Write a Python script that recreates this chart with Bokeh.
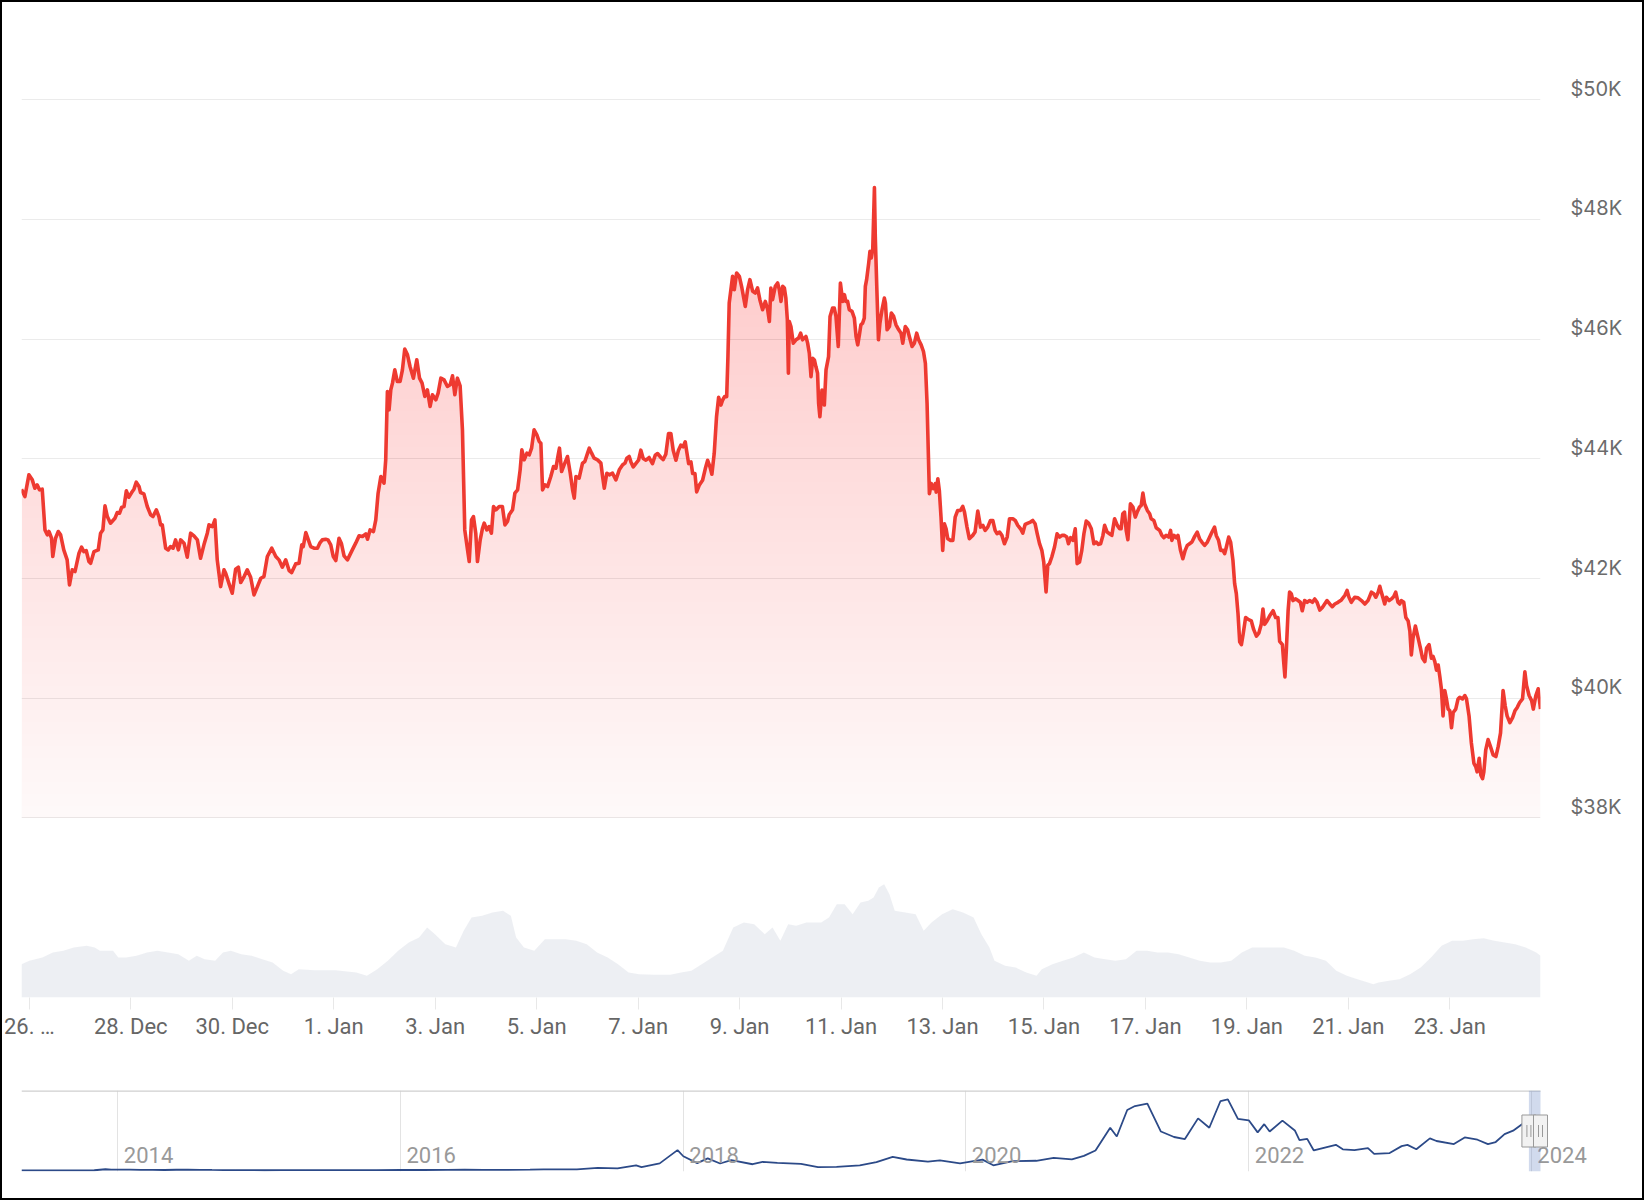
import numpy as np
import pandas as pd
from bokeh.plotting import figure
from bokeh.layouts import column
from bokeh.models import Range1d, FixedTicker, LinearAxis
from bokeh.embed import file_html
from bokeh.resources import INLINE
from bokeh.core.properties import value

# ---------------- data ----------------
START = "2023-12-26 00:00"   # hours below are counted from this instant

price_hours = [
    -3.7, -2.1, -0.2, 1.4, 2.6, 3.7, 4.8, 6.1, 7.4, 8.5,
    9.3, 10.5, 11.1, 12.4, 13.7, 14.8, 16.3, 17.9, 19.0, 20.3,
    21.6, 23.5, 24.7, 25.8, 26.9, 28.2, 29.0, 30.6, 32.6, 33.7,
    34.8, 35.8, 36.9, 38.4, 40.5, 41.6, 42.7, 43.7, 44.8, 45.9,
    47.1, 48.4, 49.5, 50.6, 51.9, 52.6, 54.2, 55.8, 57.4, 58.5,
    60.1, 61.3, 62.1, 62.9, 64.5, 65.7, 66.8, 68.0, 69.2, 70.5,
    71.6, 73.2, 74.7, 76.3, 77.9, 79.5, 81.0, 82.6, 84.2, 85.0,
    86.6, 87.8, 88.9, 90.5, 92.1, 92.9, 94.5, 96.0, 97.6, 98.9,
    100.0, 101.6, 103.1, 104.7, 106.3, 107.9, 109.5, 111.0, 112.6, 114.7,
    116.6, 118.1, 119.7, 121.3, 122.9, 124.1, 126.0, 127.6, 128.9, 129.6,
    130.8, 132.0, 133.1, 134.7, 136.3, 137.4, 138.6, 140.2,
    141.3, 142.6, 143.8, 145.0, 146.5, 147.6, 148.9, 150.5, 152.8, 154.4,
    156.0, 157.6, 159.2, 160.0, 161.2, 162.8, 163.9, 165.0, 166.3, 167.8,
    168.6, 169.4, 170.2, 171.0, 171.8, 172.9, 174.1, 175.4, 176.5, 177.6,
    178.9, 180.1, 181.7, 183.3, 184.6, 185.8, 187.1, 188.3, 189.6, 190.7,
    192.3, 193.4, 194.7, 196.2, 197.8, 199.1, 200.2, 201.3, 202.5, 203.8,
    204.9, 206.0, 207.3, 208.1, 209.2, 210.1, 211.2, 212.0, 213.3, 214.4,
    215.2, 216.4, 217.5, 218.6, 219.6, 220.7, 222.3, 223.8, 225.0, 226.2,
    227.0, 228.6, 229.7, 231.0, 232.2, 233.0, 234.1, 235.4, 236.5, 237.6,
    238.8, 240.1, 241.2, 242.0, 242.8, 243.9, 245.2, 246.7, 248.0, 249.1,
    250.2, 250.8, 251.8, 253.0, 254.6, 255.9, 257.0, 257.8, 258.6, 260.1,
    261.7, 262.8, 264.1, 264.9, 266.0, 267.2, 268.8, 270.4, 271.2, 272.0,
    273.2, 274.4, 275.9, 277.5, 279.1, 280.7, 281.8, 282.7, 283.8,
    284.6, 285.7, 286.9, 288.2, 289.3, 290.4, 291.7, 293.2, 294.8, 296.1,
    297.2, 298.8, 299.9, 301.1, 302.4, 303.5, 304.6, 305.9, 307.1, 308.2,
    309.3, 310.3, 310.9, 311.9, 313.0, 313.8, 314.9, 315.7, 316.9, 318.5,
    319.8, 320.9, 322.0, 322.9, 324.0, 325.1, 326.1, 327.2, 328.0, 328.9,
    329.9, 330.5, 331.1, 331.8, 332.7, 333.5, 334.6, 335.9, 337.1, 338.7,
    339.8, 340.9, 342.2, 343.4, 344.5, 345.6, 346.9, 348.2, 349.3, 350.1,
    350.8, 351.6, 352.9, 354.0, 354.8, 355.6, 356.4, 357.2, 357.9, 358.6,
    359.1, 359.5, 360.3, 361.4, 362.7, 363.9, 364.9, 365.8, 367.4, 368.2,
    369.0, 369.8, 370.6, 371.4, 372.1, 372.9, 373.4, 374.0, 375.0, 376.1,
    376.9, 378.1, 378.8, 380.0, 380.8, 381.6, 382.7, 383.7, 384.8, 385.6,
    386.3, 387.1, 387.9, 389.2, 390.3, 391.1, 391.9, 392.7, 393.4, 394.2,
    395.0, 395.5, 396.1, 397.1, 397.7, 398.3, 399.0, 399.8, 400.2, 400.9,
    401.7, 402.4, 403.4, 404.5, 405.0, 405.8, 406.9, 407.8, 408.9, 410.0,
    411.3, 412.4, 413.2, 414.4, 415.5, 416.3, 417.6, 418.7, 419.8, 420.7,
    421.9, 423.0, 423.9, 424.7, 425.3, 425.8, 426.7, 427.7, 428.6,
    429.0, 429.8, 430.5, 431.3, 432.1, 432.9, 433.7, 434.5, 435.8, 436.9,
    438.0, 439.2, 440.5, 441.6, 442.4, 443.6, 444.7, 446.3, 447.4, 448.7,
    450.0, 451.1, 452.2, 453.4, 454.7, 455.8, 456.9, 457.8, 459.0, 460.1,
    461.3, 462.6, 463.7, 465.3, 466.4, 467.6, 468.9, 470.0, 471.1, 472.4,
    473.6, 474.7, 475.8, 476.8, 477.9, 479.0, 479.9, 481.0, 481.8, 482.6,
    483.7, 485.0, 486.2, 487.4, 488.5, 489.7, 490.8, 491.6, 492.6, 493.7,
    494.8, 495.7, 496.8, 497.9, 498.9, 500.0, 501.1, 502.4, 503.6, 504.7,
    505.8, 506.8, 507.9, 508.7, 509.9, 511.0, 512.1, 513.4, 514.7, 515.8,
    516.5, 517.3, 518.1, 518.9, 519.7, 520.9, 522.1, 523.2, 524.1, 525.2,
    526.0, 526.8, 527.6, 528.9, 530.0, 530.7, 532.0, 533.1, 534.7, 535.8,
    536.7, 537.8, 539.0, 539.9, 540.5, 541.5, 542.6, 543.4, 544.6, 545.7,
    546.8, 547.8, 548.9, 550.0, 551.3, 552.5, 553.6, 554.7, 556.0, 557.3,
    558.4, 559.5, 560.7, 561.5, 562.6, 563.6, 564.7, 565.5, 566.3, 567.4,
    568.3, 569.4, 570.2, 571.0, 571.8, 572.6,
    573.4, 574.2, 575.4, 576.5, 578.1, 579.2, 580.5, 581.7, 582.8, 583.6,
    584.4, 585.5, 586.8, 588.4, 589.6, 590.7, 591.5, 592.8, 593.4, 594.0,
    594.7, 595.5, 596.2, 597.0, 597.8, 599.1, 600.2, 601.3, 602.2, 603.3,
    604.5, 605.7, 607.0, 608.1, 609.2, 610.5, 611.7, 612.8, 613.9, 615.2,
    616.4, 617.6, 619.1, 620.7, 622.3, 623.4, 624.3, 625.4, 627.0, 628.6,
    630.2, 631.8, 633.3, 634.9, 636.0, 637.0, 638.1, 638.9, 639.6, 640.4,
    641.2, 642.0, 643.3, 644.4, 645.5, 646.4, 647.5, 648.3, 649.1, 650.2,
    651.2, 652.3, 653.1, 653.8, 654.6, 655.7, 657.0, 658.1, 659.1, 660.2,
    661.0, 662.2, 663.3, 664.1, 664.9, 665.7, 666.5, 667.3, 668.0, 668.8,
    669.6, 670.4, 671.2, 672.0, 672.8, 673.6, 674.8, 675.9, 676.7, 678.0,
    679.1, 679.9, 681.1, 682.2, 683.4, 684.3, 684.9, 685.9, 686.7, 687.5,
    688.1, 689.0, 690.1, 691.2, 692.5, 693.8, 694.9, 696.0, 697.2, 698.2,
    699.1, 700.4, 701.7, 702.8, 703.9, 705.1, 706.4, 707.5, 708.3, 709.5,
    710.7, 711.5, 712.7, 713.8, 714.9,
]

price_usd = [
    43493, 43370, 43733, 43649, 43510, 43565, 43482, 43493, 42813, 42730,
    42786, 42674, 42368, 42674, 42786, 42730, 42479, 42312, 41894, 42145,
    42117, 42423, 42524, 42451, 42468, 42284, 42256, 42451, 42479, 42758,
    42813, 43214, 43036, 42925, 43008, 43103, 43092, 43192, 43203, 43465,
    43359, 43437, 43493, 43610, 43538, 43437, 43415, 43203, 43064, 43036,
    43148, 43036, 42897, 42897, 42507, 42479, 42535, 42507, 42646, 42479,
    42646, 42591, 42357, 42758, 42713, 42646, 42340, 42563, 42758, 42897,
    42869, 42980, 42312, 41866, 42145, 42089, 41911, 41755, 42156, 42189,
    41933, 42033, 42145, 42022, 41727, 41866, 42005, 42033, 42368, 42507,
    42368, 42312, 42189, 42312, 42134, 42100, 42245, 42256, 42563, 42535,
    42769, 42646, 42535, 42507, 42507, 42591, 42646, 42657,
    42646, 42563, 42368, 42301, 42674, 42591, 42379, 42312, 42479, 42591,
    42713, 42702, 42747, 42657, 42813, 42786, 42980, 43426, 43705, 43593,
    43983, 45125, 44819, 45153, 45265, 45487, 45292, 45292, 45487, 45833,
    45738, 45543, 45348, 45655, 45348, 45265, 45042, 45153, 44875, 45070,
    44986, 45097, 45348, 45320, 45209, 45237, 45387, 45070, 45348, 45220,
    44485, 42813, 42479, 42284, 42980, 43036, 42758, 42284, 42646, 42841,
    42925, 42813, 42869, 42758, 43203, 43148, 43203, 43203, 42897, 42953,
    43064, 43148, 43426, 43482, 43816, 44150, 43983, 44095, 44067, 44178,
    44485, 44401, 44290, 44262, 43482, 43565, 43538, 43705, 43872, 43844,
    44067, 44178, 43788, 43900, 44039, 43760, 43482, 43343, 43705, 43677,
    43928, 43955, 44095, 44178, 44095, 44011, 43983, 43928, 43705, 43510,
    43760, 43733, 43760, 43649, 43816, 43900, 43928, 44011, 44039,
    43949, 43866, 43921, 43977, 44145, 44005, 43977, 44022, 43921, 44061,
    44089, 44022, 43989, 44078, 44424, 44424, 44145, 43977, 44145, 44229,
    44201, 44285, 44145, 43921, 43949, 43754, 43754, 43447, 43558, 43642,
    43838, 43977, 43866, 43743, 44089, 44704, 45028, 44899, 44983, 45039,
    45039, 45709, 46603, 46799, 47050, 46827, 47106, 47050, 46855, 46547,
    46827, 46994, 46799, 46771, 46855, 46659, 46492, 46631, 46492, 46296,
    46855, 46659, 46883, 46938, 46827, 46631, 46883, 46855, 46687, 46324,
    45430, 46296, 46212, 45933, 45989, 46017, 46100, 45989, 46045, 45933,
    45765, 45374, 45681, 45653, 45542, 45430, 44927, 44704, 45151, 44899,
    45486, 45709, 46380, 46519, 46519, 46380, 45877, 46938, 46631, 46743,
    46631, 46631, 46492, 46464, 46352, 46045, 45905, 46073, 46240, 46268,
    46352, 46883, 46994, 47274, 47469, 47357, 47497, 48531, 47721, 46883,
    45989, 46268, 46492, 46687, 46603, 46156, 46212, 46436, 46380, 46240,
    46156, 46100, 45933, 46212, 46156, 46045, 45877, 45933, 46100, 45989,
    45905, 45793, 45598, 44927, 44089, 43419, 43586, 43502, 43586,
    43444, 43666, 43472, 43027, 42471, 42916, 42832, 42666, 42638, 42638,
    43027, 43138, 43138, 43205, 43110, 42860, 42666, 42721, 42777, 43127,
    42860, 42888, 42805, 42860, 42971, 42971, 42805, 42749, 42777, 42721,
    42582, 42693, 42999, 42999, 42971, 42888, 42832, 42760, 42905, 42927,
    42944, 42971, 42916, 42749, 42582, 42471, 42276, 41776, 42221, 42249,
    42360, 42527, 42749, 42693, 42721, 42721, 42693, 42582, 42682, 42638,
    42832, 42249, 42276, 42471, 42749, 42960, 42927, 42832, 42582, 42610,
    42571, 42582, 42721, 42888, 42777, 42749, 42721, 42999, 42888, 42832,
    42832, 43083, 43110, 42805, 42649, 43249, 43194, 43027, 43110, 43194,
    43222, 43427, 43249, 43138, 43083, 42999, 42971, 42849, 42805, 42721,
    42682, 42721, 42693, 42805, 42638, 42721, 42682, 42721, 42471, 42332,
    42471, 42554, 42582, 42610, 42705, 42777, 42666, 42610, 42554, 42610,
    42693, 42777, 42860, 42721, 42638, 42471, 42471, 42416, 42527, 42693,
    42610, 42304, 41915, 41748, 41415, 40942,
    40895, 41065, 41348, 41320, 41292, 41150, 41037, 41093, 41235, 41490,
    41235, 41292, 41377, 41462, 41348, 41348, 40952, 40895, 40612, 40357,
    40838, 41462, 41773, 41745, 41632, 41660, 41632, 41603, 41462, 41632,
    41603, 41632, 41603, 41660, 41603, 41473, 41518, 41575, 41632, 41575,
    41530, 41575, 41603, 41643, 41717, 41802, 41688, 41603, 41688, 41677,
    41632, 41575, 41632, 41773, 41745, 41688, 41773, 41870, 41773, 41677,
    41575, 41688, 41632, 41660, 41700, 41773, 41603, 41575, 41632, 41603,
    41348, 41292, 41122, 40725, 41008, 41207, 41008, 40838, 40668, 40612,
    40838, 40895, 40668, 40697, 40612, 40470, 40555, 40357, 40159, 39705,
    40130, 39989, 39819, 39790, 39507, 39762, 39819, 39989, 40017, 39989,
    40045, 39989, 39705, 39252, 38912, 38855, 38770, 38997, 38714, 38657,
    38770, 39139, 39309, 39195, 39054, 39025, 39195, 39422, 40130, 39875,
    39705, 39592, 39677, 39790, 39847, 39932, 39989, 40442, 40215, 40045,
    39960, 39819, 40045, 40159, 39819,
]

volume_hours = [
    -3.7, 0.0, 6.2, 11.1, 16.1, 21.0, 27.2, 30.9, 33.4, 35.9,
    39.6, 42.1, 45.8, 50.7, 55.7, 60.6, 65.6, 70.5, 75.5, 79.2,
    82.9, 87.9, 91.6, 95.3, 100.3, 105.2, 110.2, 115.1, 120.1, 123.8,
    127.5, 134.9, 144.8, 154.7, 159.7, 164.6, 169.6, 174.5, 179.5, 184.4,
    188.2, 191.9, 196.8, 201.8, 205.5, 209.2, 214.2, 219.1, 224.1, 227.8,
    230.3, 234.0, 238.9, 243.9, 248.8, 253.8, 258.7, 263.7, 268.6, 273.6,
    278.5, 283.5, 288.5, 295.9, 303.3, 308.3, 313.2, 318.1, 323.1, 328.1,
    333.0, 338.0, 342.9, 347.9, 351.6, 355.3, 359.0, 362.8, 367.6, 374.6,
    378.3, 382.0, 385.7, 389.5, 393.2, 396.9, 399.4, 401.9, 404.4, 406.9,
    409.4, 414.4, 419.3, 423.1, 426.8, 431.8, 436.8, 441.7, 446.7, 450.4,
    454.2, 456.6, 461.6, 466.6, 471.6, 476.5, 479.0, 484.0, 489.0, 493.9,
    498.9, 503.9, 508.9, 513.8, 518.8, 523.8, 528.8, 533.7, 538.7, 543.7,
    548.7, 553.7, 558.6, 563.6, 568.6, 573.6, 578.5, 586.0, 593.5, 598.4,
    603.4, 608.4, 613.4, 618.3, 623.3, 628.3, 633.3, 635.8, 638.3, 643.2,
    648.2, 653.2, 658.2, 663.1, 668.1, 673.1, 678.1, 683.0, 688.0, 693.0,
    698.0, 702.9, 707.9, 712.9, 714.9,
]

volume_bn = [
    10.0, 11.0, 12.0, 13.5, 14.0, 15.0, 15.5, 15.0, 14.0, 14.0,
    14.0, 12.0, 12.0, 12.5, 13.5, 14.0, 13.5, 13.0, 11.0, 12.5,
    11.5, 11.0, 13.5, 14.0, 13.0, 12.5, 11.5, 10.5, 8.0, 7.0,
    8.5, 8.2, 8.2, 7.5, 6.5, 8.5, 11.0, 14.0, 16.5, 18.0,
    21.0, 19.0, 16.0, 15.0, 20.0, 24.0, 24.5, 25.5, 26.0, 24.5,
    18.0, 15.0, 14.0, 17.5, 17.5, 17.5, 17.0, 16.0, 13.5, 12.0,
    10.0, 7.5, 7.0, 6.8, 6.8, 7.5, 8.0, 10.0, 12.0, 14.0,
    21.0, 22.5, 22.0, 19.0, 21.0, 17.0, 22.0, 21.5, 22.5, 22.5,
    24.0, 28.0, 28.0, 25.0, 28.5, 29.0, 30.0, 33.0, 34.0, 31.0,
    26.0, 25.5, 25.0, 20.0, 22.5, 25.0, 26.5, 25.5, 24.0, 19.0,
    15.0, 11.0, 9.5, 9.0, 7.5, 6.5, 8.5, 10.0, 11.0, 12.0,
    13.5, 12.0, 11.5, 11.0, 11.5, 14.0, 14.0, 13.5, 13.5, 13.0,
    12.0, 11.0, 10.5, 10.5, 11.0, 13.5, 15.0, 15.0, 15.0, 14.0,
    12.5, 12.0, 11.0, 8.0, 6.5, 5.5, 4.5, 4.0, 4.5, 5.0,
    5.5, 7.0, 9.0, 12.0, 15.5, 17.0, 17.0, 17.5, 17.8, 17.0,
    16.5, 16.0, 15.0, 13.5, 12.5,
]

x_tick_dates = ["2023-12-26", "2023-12-28", "2023-12-30", "2024-01-01", "2024-01-03",
                "2024-01-05", "2024-01-07", "2024-01-09", "2024-01-11", "2024-01-13",
                "2024-01-15", "2024-01-17", "2024-01-19", "2024-01-21", "2024-01-23"]
x_tick_labels = ["26. \u2026", "28. Dec", "30. Dec", "1. Jan", "3. Jan", "5. Jan", "7. Jan",
                 "9. Jan", "11. Jan", "13. Jan", "15. Jan", "17. Jan", "19. Jan",
                 "21. Jan", "23. Jan"]

y_ticks = [38000, 40000, 42000, 44000, 46000, 48000, 50000]
y_tick_labels = ["$38K", "$40K", "$42K", "$44K", "$46K", "$48K", "$50K"]

nav_dates = [
    "2013-04-27", "2013-06-01", "2013-07-01", "2013-08-01", "2013-09-01", "2013-10-01",
    "2013-11-01", "2013-11-30", "2013-12-15", "2014-01-01", "2014-02-01", "2014-03-01",
    "2014-04-01", "2014-05-01", "2014-06-01", "2014-07-01", "2014-08-01", "2014-09-01",
    "2014-10-01", "2014-11-01", "2014-12-01", "2015-01-15", "2015-03-01", "2015-05-01",
    "2015-07-01", "2015-09-01", "2015-11-01", "2016-01-01", "2016-03-01", "2016-05-01",
    "2016-06-15", "2016-08-01", "2016-10-01", "2016-12-01", "2017-01-05", "2017-02-15",
    "2017-04-01", "2017-05-25", "2017-07-15", "2017-09-01", "2017-09-15", "2017-11-01",
    "2017-12-17", "2018-01-01", "2018-02-06", "2018-03-05", "2018-04-06", "2018-05-05",
    "2018-06-29", "2018-07-25", "2018-09-01", "2018-11-01", "2018-12-15", "2019-02-01",
    "2019-04-02", "2019-05-15", "2019-06-26", "2019-08-01", "2019-09-25", "2019-10-26",
    "2019-12-17", "2020-02-13", "2020-03-12", "2020-05-01", "2020-07-01", "2020-08-15",
    "2020-10-01", "2020-11-01", "2020-12-01", "2021-01-08", "2021-01-25", "2021-02-21",
    "2021-03-13", "2021-04-14", "2021-05-19", "2021-06-22", "2021-07-20", "2021-08-23",
    "2021-09-21", "2021-10-20", "2021-11-08", "2021-12-04", "2022-01-01", "2022-01-24",
    "2022-02-10", "2022-02-24", "2022-03-29", "2022-04-30", "2022-05-12", "2022-06-01",
    "2022-06-18", "2022-08-14", "2022-09-01", "2022-10-01", "2022-11-05", "2022-11-21",
    "2022-12-31", "2023-01-31", "2023-02-15", "2023-03-10", "2023-04-14", "2023-05-01",
    "2023-06-15", "2023-07-13", "2023-08-15", "2023-09-11", "2023-10-01", "2023-10-24",
    "2023-11-15", "2023-12-08", "2024-01-03", "2024-01-11", "2024-01-23",
]
nav_price = [
    130, 122, 90, 105, 140, 125,
    205, 1130, 850, 770, 810, 565,
    460, 445, 650, 640, 590, 475,
    385, 325, 380, 205, 260, 235,
    258, 229, 325, 430, 435, 450,
    690, 610, 615, 750, 1000, 1010,
    1080, 2500, 1950, 4900, 3250, 6700,
    19300, 13500, 7000, 11500, 6600, 9800,
    5900, 8200, 7200, 6300, 3250, 3450,
    4900, 8000, 12900, 10400, 8400, 9550,
    6650, 10300, 4900, 8800, 9200, 11900,
    10600, 13800, 19000, 40600, 32300, 57500,
    61200, 63500, 37000, 31800, 29800, 49500,
    40600, 66000, 67500, 49000, 47700, 36200,
    44000, 37000, 47400, 38000, 28900, 30000,
    19000, 24400, 20100, 19300, 21300, 15800,
    16500, 23100, 24300, 20200, 30500, 28000,
    25100, 31400, 29200, 25100, 27000, 34500,
    37800, 44000, 42800, 46500, 39500,
]
nav_start_date = "2013-04-27"
nav_years = ["2014", "2016", "2018", "2020", "2022", "2024"]

# ---------------- derived ----------------
def ms(d):
    return pd.Timestamp(d).value / 1e6

start_ms = ms(START)
n = min(len(price_hours), len(price_usd))
t_ms = start_ms + np.array(price_hours[:n]) * 3600e3
price = np.array(price_usd[:n], dtype=float)
m = min(len(volume_hours), len(volume_bn))
tv_ms = start_ms + np.array(volume_hours[:m]) * 3600e3
vol = np.array(volume_bn[:m], dtype=float)

x_start, x_end = float(t_ms[0]), float(t_ms[-1])
Y_START, Y_END = 35000, 51324
VOL_END = 293

RED = "#ee3a31"
GRID = "#ebebeb"
TXT = "#666666"

FRAME_W = 1519
FRAME_H = 977

p = figure(x_axis_type="datetime", frame_width=FRAME_W, frame_height=FRAME_H,
           min_border_left=19, min_border_right=102, min_border_top=18, min_border_bottom=60,
           x_range=Range1d(x_start, x_end), y_range=Range1d(Y_START, Y_END),
           y_axis_location=None, output_backend="svg", toolbar_location=None)
p.extra_y_ranges = {"vol": Range1d(0, VOL_END)}
p.outline_line_color = None
p.background_fill_color = "white"
p.border_fill_color = "white"
p.xgrid.visible = False
p.ygrid.ticker = FixedTicker(ticks=y_ticks)
p.ygrid.grid_line_color = GRID
p.ygrid.grid_line_width = 1

# volume area
p.varea(x=tv_ms, y1=np.zeros_like(vol), y2=vol, y_range_name="vol",
        fill_color="#eceef2", fill_alpha=0.95)

# gradient fill under price: stacked translucent layers
FILL_BASE = 38000
p.varea(x=t_ms, y1=np.full_like(price, FILL_BASE), y2=np.maximum(price, FILL_BASE),
        fill_color=RED, fill_alpha=0.03)
for lo in np.arange(FILL_BASE + 200, price.max(), 200):
    p.varea(x=t_ms, y1=np.full_like(price, lo), y2=np.maximum(price, lo),
            fill_color=RED, fill_alpha=0.0045)

p.line(x=t_ms, y=price, line_color=RED, line_width=3.6, line_join="round")

# x axis
tick_ms = [int(ms(d)) for d in x_tick_dates]
p.xaxis.ticker = FixedTicker(ticks=tick_ms)
p.xaxis.major_label_overrides = {tk: lab for tk, lab in zip(tick_ms, x_tick_labels)}
p.xaxis.axis_line_color = None
p.xaxis.major_tick_line_color = "#e8e8e8"
p.xaxis.major_tick_out = 12
p.xaxis.major_tick_in = 0
p.xaxis.minor_tick_line_color = None
p.xaxis.major_label_standoff = 4
p.xaxis.major_label_text_font = "Roboto"
p.xaxis.major_label_text_font_size = "22px"
p.xaxis.major_label_text_color = TXT

# right price axis: labels sit ~11 px above their grid lines (Highcharts style)
LIFT_PX = 11
lift = LIFT_PX * (Y_END - Y_START) / FRAME_H
p.extra_y_ranges["labels"] = Range1d(Y_START - lift, Y_END - lift)
yax = LinearAxis(y_range_name="labels", ticker=FixedTicker(ticks=y_ticks))
yax.major_label_overrides = {v: lab for v, lab in zip(y_ticks, y_tick_labels)}
yax.axis_line_color = None
yax.major_tick_line_color = None
yax.minor_tick_line_color = None
yax.major_tick_out = 0
yax.major_tick_in = 0
yax.major_label_standoff = 30
yax.major_label_text_font = "Inter"
yax.major_label_text_font_size = "20px"
yax.major_label_text_color = "#6b6b6b"
p.add_layout(yax, "right")

# ---------------- navigator ----------------
NY0, NY1 = -1000, 76000
NAV_FRAME_W = 1579                       # extends past the data so the last year label fits
px = (x_end - ms(nav_start_date)) / FRAME_W
nav_x_end = x_end + (NAV_FRAME_W - FRAME_W) * px
nav_ms = np.array([ms(d) for d in nav_dates[:len(nav_price)]])
p2 = figure(x_axis_type="datetime", frame_width=NAV_FRAME_W, frame_height=81,
            min_border_left=19, min_border_right=42, min_border_top=33, min_border_bottom=27,
            x_range=Range1d(ms(nav_start_date), nav_x_end), y_range=Range1d(NY0, NY1),
            x_axis_location=None, y_axis_location=None,
            output_backend="svg", toolbar_location=None)
p2.outline_line_color = None
p2.background_fill_color = "white"
p2.border_fill_color = "white"
year_ms = [ms(y + "-01-01") for y in nav_years]
p2.xgrid.ticker = FixedTicker(ticks=year_ms)
p2.xgrid.grid_line_color = "#e3e3e3"
p2.ygrid.visible = False

p2.line(x=nav_ms, y=nav_price, line_color="#2c4a88", line_width=1.8)
p2.segment(x0=[ms(nav_start_date)], y0=[NY1], x1=[x_end], y1=[NY1],
           line_color="#cfcfcf", line_width=2.5)

p2.text(x=year_ms, y=[NY0] * len(year_ms), text=nav_years, x_offset=6, y_offset=-17,
        text_align="left", text_baseline="middle", text_font=value("Roboto"),
        text_font_size="22px", text_color="#999999")

# selected window (the main chart's range)
p2.quad(left=[x_start], right=[x_end], bottom=[NY0], top=[NY1],
        fill_color="#6685c2", fill_alpha=0.3, line_color=None)
ymid = (NY0 + NY1) / 2
p2.rect(x=[x_start, x_end], y=[ymid, ymid], width=14, height=32,
        width_units="screen", height_units="screen",
        fill_color="#f2f2f2", line_color="#999999", line_width=1)
grip_x = [x_start - 2 * px, x_start + 2 * px, x_end - 2 * px, x_end + 2 * px]
p2.scatter(x=grip_x, y=[ymid] * 4, marker="dash", size=12, angle=np.pi / 2,
           line_color="#999999", line_width=1)

layout = column(p, p2, spacing=0, styles={"border": "2px solid black"})

open("out.html", "w").write(file_html(layout, INLINE))
